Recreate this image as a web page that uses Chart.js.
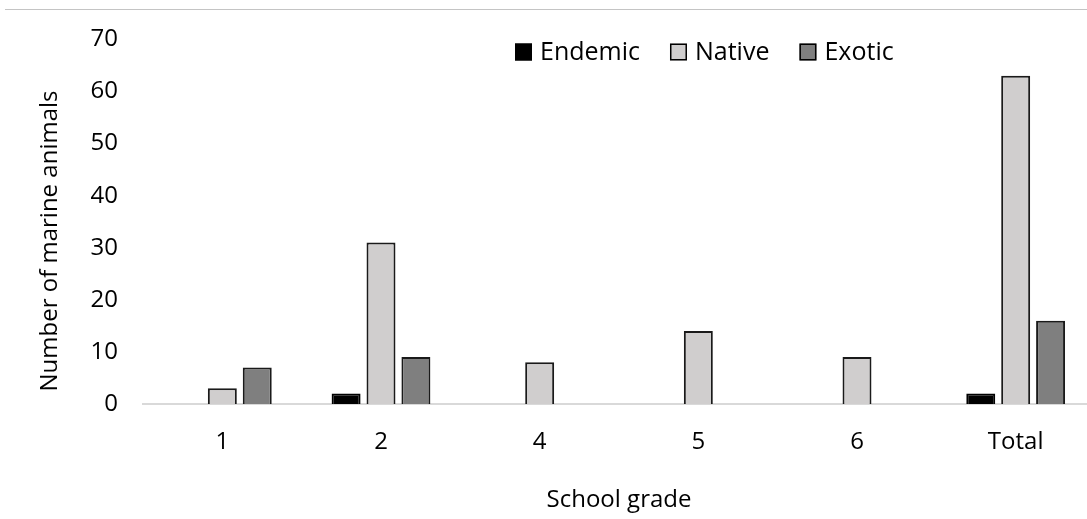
<!DOCTYPE html>
<html>
<head>
<meta charset="utf-8">
<script src="https://cdn.jsdelivr.net/npm/chart.js@4"></script>
<style>
  html, body { margin: 0; padding: 0; background: #fff; overflow: hidden; width: 1087px; height: 519px; }
  #topline { position: absolute; left: 5px; top: 9px; width: 1082px; height: 0; border-top: 1px solid #c4c4c4; }
  #wrap { position: absolute; left: 0; top: 0; width: 1095px; height: 519px; }
</style>
</head>
<body>
<div id="topline"></div>
<div id="wrap"><canvas id="c"></canvas></div>
<script>
const categories = ['1', '2', '4', '5', '6', 'Total'];
const endemic = [null, 2, null, null, null, 2];
const native = [3, 31, 8, 14, 9, 63];
const exotic = [7, 9, null, null, null, 16];
const seriesNames = ['Endemic', 'Native', 'Exotic'];
const yTicks = [0, 10, 20, 30, 40, 50, 60, 70];
const xTitle = 'School grade';
const yTitle = 'Number of marine animals';

const FONT = '"Open Sans", "Liberation Sans", sans-serif';
const FS = 24;
const LEG_FS = 25;

const overlayPlugin = {
  id: 'overlay',
  afterDraw(chart) {
    const ctx = chart.ctx;
    ctx.save();
    // legend
    ctx.font = LEG_FS + 'px ' + FONT;
    ctx.textBaseline = 'middle';
    let x = 515;
    const y = 52;
    chart.data.datasets.forEach(ds => {
      ctx.fillStyle = ds.backgroundColor;
      ctx.fillRect(x, y - 8.5, 17, 17);
      ctx.strokeStyle = '#000';
      ctx.lineWidth = 1.5;
      ctx.strokeRect(x + 0.75, y - 7.75, 15.5, 15.5);
      ctx.fillStyle = '#000';
      ctx.fillText(ds.label, x + 25, y + 1);
      x += 25 + ctx.measureText(ds.label).width + 30;
    });
    // y axis title
    ctx.font = FS + 'px ' + FONT;
    ctx.textAlign = 'center';
    ctx.textBaseline = 'middle';
    ctx.translate(50, 241);
    ctx.rotate(-Math.PI / 2);
    ctx.fillText(yTitle, 0, 0);
    ctx.restore();
  }
};

new Chart(document.getElementById('c'), {
  type: 'bar',
  data: {
    labels: categories,
    datasets: [
      { label: seriesNames[0], data: endemic, backgroundColor: '#000000', borderColor: '#000', borderWidth: 2 },
      { label: seriesNames[1], data: native, backgroundColor: '#d0cece', borderColor: '#1a1a1a', borderWidth: 2 },
      { label: seriesNames[2], data: exotic, backgroundColor: '#7f7f7f', borderColor: '#1a1a1a', borderWidth: 2 }
    ]
  },
  options: {
    responsive: true,
    maintainAspectRatio: false,
    animation: false,
    devicePixelRatio: 1,
    layout: { padding: { left: 0, top: 23, right: 0, bottom: 0 } },
    datasets: { bar: { categoryPercentage: 0.66, barPercentage: 0.83 } },
    plugins: { legend: { display: false }, tooltip: { enabled: false } },
    scales: {
      x: {
        grid: { display: false, drawTicks: false },
        border: { display: true, color: '#d9d9d9', width: 2 },
        ticks: { color: '#000', font: { family: FONT, size: FS }, padding: 24 },
        title: { display: true, text: xTitle, color: '#000', font: { family: FONT, size: FS } },
        afterFit(s) { s.height = 115; }
      },
      y: {
        min: 0, max: 70,
        grid: { display: false, drawTicks: false },
        border: { display: false },
        afterBuildTicks(s) { s.ticks = yTicks.map(v => ({ value: v })); },
        ticks: { color: '#000', font: { family: FONT, size: FS }, padding: 25 },
        title: { display: false },
        afterFit(s) { s.width = 143; }
      }
    }
  },
  plugins: [overlayPlugin]
});
</script>
</body>
</html>
